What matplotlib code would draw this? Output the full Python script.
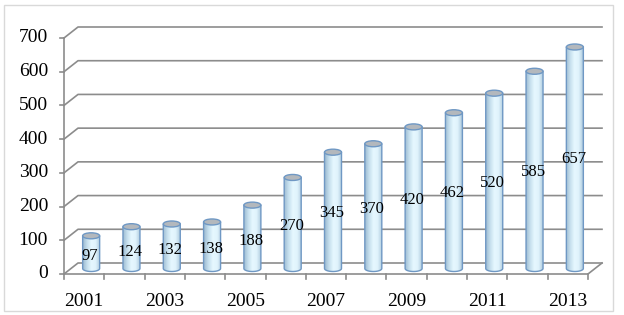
import numpy as np
import matplotlib
matplotlib.use('Agg')
from matplotlib import pyplot as plt
from matplotlib.patches import Ellipse, Rectangle, Polygon
from matplotlib.colors import LinearSegmentedColormap

years = [2001, 2002, 2003, 2004, 2005, 2006, 2007, 2008, 2009, 2010, 2011, 2012, 2013]
values = [97, 124, 132, 138, 188, 270, 345, 370, 420, 462, 520, 585, 657]
y_ticks = [0, 100, 200, 300, 400, 500, 600, 700]

plt.rcParams['font.family'] = ['Liberation Serif', 'DejaVu Serif']

W, H = 624, 315
fig = plt.figure(figsize=(W / 100, H / 100), dpi=100)

# front plane in pixels
x0, x1 = 64, 588
y0, y1 = 274, 38
ax = fig.add_axes([x0 / W, 1 - y0 / H, (x1 - x0) / W, (y0 - y1) / H])
n = len(years)
ax.axis('off')

px_x = n / (x1 - x0)          # slot units per pixel
px_y = 700 / (y0 - y1)        # value units per pixel
dx = 14 * px_x                # depth offset
dy = 11 * px_y

grid_c = '#8c8c8c'
# gridlines / back wall
for v in y_ticks:
    ax.plot([0, dx, n + dx], [v, v + dy, v + dy], color=grid_c, lw=1.2,
            clip_on=False, zorder=1)
    ax.plot([-4 * px_x, 0], [v, v], color=grid_c, lw=1.2, clip_on=False, zorder=1)
    ax.text(-16 * px_x, v, str(v), ha='right', va='center', fontsize=14)

# floor front edge and side, front axis line
ax.plot([0, n, n + dx], [0, 0, dy], color=grid_c, lw=1.2, clip_on=False, zorder=1)
ax.plot([0, 0], [0, 700], color=grid_c, lw=1.2, clip_on=False, zorder=1)
for i in range(n + 1):
    ax.plot([i, i], [0, -5 * px_y], color=grid_c, lw=1.2, clip_on=False, zorder=1)

for i, yr in enumerate(years):
    if yr % 2 == 1:
        ax.text(i + 0.5, -27 * px_y, str(yr), ha='center', va='center', fontsize=14)

# cylinders
cmap = LinearSegmentedColormap.from_list(
    'cyl', ['#9fbcd2', '#c6e0ee', '#e6f8ff', '#e0f3fc', '#b2cde0'])
grad = np.linspace(0, 1, 64).reshape(1, -1)
bw = 17 * px_x
eh = 6 * px_y
for i, v in enumerate(values):
    cx = i + 0.5 + dx / 2
    base = dy / 2
    left, right = cx - bw / 2, cx + bw / 2
    t = np.linspace(np.pi, 2 * np.pi, 30)
    bottom = np.column_stack([cx + bw / 2 * np.cos(t), base + eh / 2 * np.sin(t)])
    verts = np.vstack([[[left, base + v]], bottom, [[right, base + v]], [[left, base + v]]])
    body = Polygon(verts, closed=True, facecolor='none', edgecolor='#6f98c4',
                   lw=1.0, zorder=3)
    ax.add_patch(body)
    im = ax.imshow(grad, cmap=cmap, aspect='auto', zorder=2,
                   extent=[left, right, base - eh, base + v], interpolation='bilinear')
    im.set_clip_path(body)
    top = Ellipse((cx, base + v), bw, eh, facecolor='#b3b8bd', edgecolor='#6f98c4',
                  lw=1.0, zorder=4)
    ax.add_patch(top)
    ax.text(cx - 1.5 * px_x, v / 2 + v * 0.015 + 2, str(v), ha='center', va='center',
            fontsize=12, zorder=5)

ax.set_xlim(0, n)
ax.set_ylim(0, 700)

# chart border
fig.patches.append(Rectangle((4 / W, 4 / H), 609 / W, 306 / H, transform=fig.transFigure,
                             fill=False, edgecolor='#d9d9d9', lw=1))

fig.savefig('out.png', dpi=100)
